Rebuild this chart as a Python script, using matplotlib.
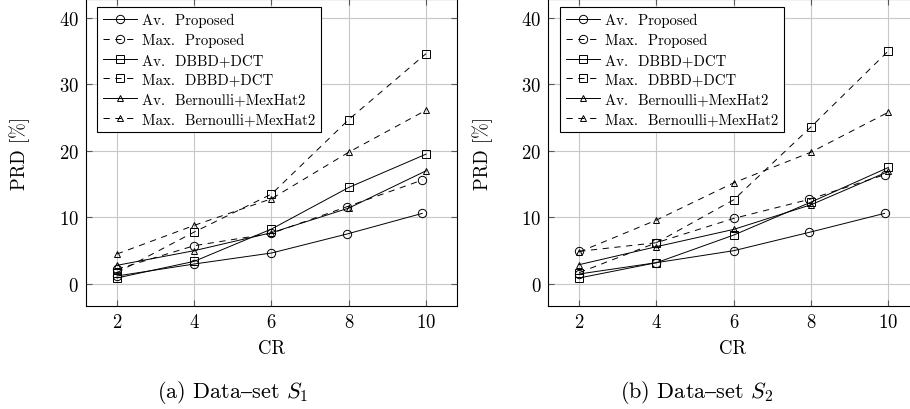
import matplotlib
matplotlib.use("Agg")
import matplotlib.pyplot as plt

plt.rcParams['font.family'] = ['cmr10', 'DejaVu Serif']
plt.rcParams['mathtext.fontset'] = 'cm'
plt.rcParams['axes.formatter.use_mathtext'] = True
plt.rcParams['lines.scale_dashes'] = False

cr = [2, 4, 6, 8, 10]
cr_proposed = [2, 4, 6, 7.95, 9.9]

# Data-set S1
s1_av_prop = [1.2, 3.0, 4.65, 7.5, 10.6]
s1_max_prop = [2.2, 5.75, 7.6, 11.6, 15.6]
s1_av_dbbd = [0.9, 3.4, 8.25, 14.5, 19.5]
s1_max_dbbd = [1.7, 7.8, 13.5, 24.7, 34.6]
s1_av_bern = [2.8, 5.0, 7.7, 11.4, 17.0]
s1_max_bern = [4.5, 8.8, 12.8, 19.8, 26.1]

# Data-set S2
s2_av_prop = [1.5, 3.2, 5.0, 7.75, 10.6]
s2_max_prop = [4.9, 6.2, 9.85, 12.7, 16.4]
s2_av_dbbd = [0.9, 3.2, 7.35, 12.3, 17.5]
s2_max_dbbd = [1.7, 6.2, 12.65, 23.6, 35.0]
s2_av_bern = [2.9, 5.6, 8.2, 11.9, 16.9]
s2_max_bern = [4.8, 9.6, 15.2, 19.8, 25.8]

labels = ["Av.  Proposed", "Max.  Proposed", "Av.  DBBD+DCT", "Max.  DBBD+DCT",
          "Av.  Bernoulli+MexHat2", "Max.  Bernoulli+MexHat2"]
yticks = [0, 10, 20, 30, 40]
xticks = [2, 4, 6, 8, 10]
captions = [r"(a) Data$\text{–}$set $S_1$", r"(b) Data$\text{–}$set $S_2$"]

fig = plt.figure(figsize=(9.1, 4.1), dpi=100)
axes_pos = [[0.0945, 0.252, 0.4077, 0.748], [0.6025, 0.252, 0.4077, 0.748]]
datasets = [
    [s1_av_prop, s1_max_prop, s1_av_dbbd, s1_max_dbbd, s1_av_bern, s1_max_bern],
    [s2_av_prop, s2_max_prop, s2_av_dbbd, s2_max_dbbd, s2_av_bern, s2_max_bern],
]
markers = ['o', 'o', 's', 's', '^', '^']
msizes = [6.0, 6.0, 6.0, 6.0, 5.0, 5.0]
dashed = [False, True, False, True, False, True]
xs = [cr_proposed, cr_proposed, cr, cr, cr, cr]
legend_x = [0.0296, 0.0315]
cap_x = [233, 697]
cr_x = [271.7, 733]
ylab_x = [20, 483]

for k, pos in enumerate(axes_pos):
    ax = fig.add_axes(pos)
    for i, ys in enumerate(datasets[k]):
        kw = dict(color='black', lw=0.7, marker=markers[i], ms=msizes[i],
                  mfc='none', mec='black', mew=0.7, label=labels[i])
        if dashed[i]:
            kw['ls'] = (0, (4.5, 4))
        ax.plot(xs[i], ys, **kw)
    ax.set_xlim(1.2, 10.8)
    ax.set_ylim(-3.26, 42.8)
    ax.set_xticks(xticks)
    ax.set_yticks(yticks)
    ax.grid(True, color='#c8c8c8', lw=0.8)
    ax.set_axisbelow(True)
    ax.tick_params(direction='in', length=4, width=0.8, color='0.35',
                   top=True, right=True, labelsize=13.5, pad=5)
    for s in ax.spines.values():
        s.set_linewidth(0.8)
    leg = ax.legend(loc='upper left', bbox_to_anchor=(legend_x[k], 0.974),
                    borderaxespad=0, fancybox=False, framealpha=1,
                    edgecolor='black', fontsize=10.7, handlelength=2.3,
                    handletextpad=0.3, labelspacing=0.4, borderpad=0.4)
    leg.get_frame().set_linewidth(0.8)
    fig.text(cap_x[k] / 910, 1 - 393 / 410, captions[k], ha='center', va='center', fontsize=16)
    fig.text(cr_x[k] / 910, 1 - 349 / 410, "CR", ha='center', va='center', fontsize=13.5)
    fig.text(ylab_x[k] / 910, 1 - 153 / 410, "PRD [%]", ha='center', va='center',
             rotation=90, fontsize=13.5)

fig.savefig("out.png", dpi=100)
